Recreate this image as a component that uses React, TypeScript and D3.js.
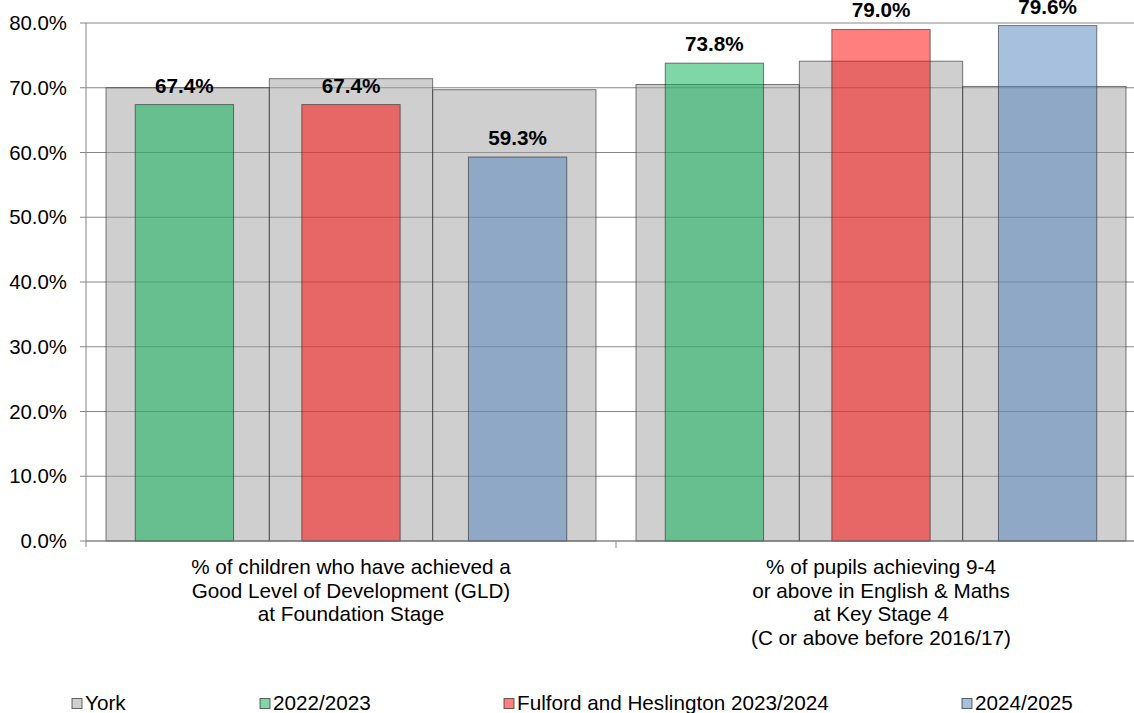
import React from "react";
import * as d3 from "d3";

const categories = ["gld", "ks4"];
const categoryLabels: string[][] = [
  ["% of children who have achieved a", "Good Level of Development (GLD)", "at Foundation Stage"],
  ["% of pupils achieving 9-4", "or above in English & Maths", "at Key Stage 4", "(C or above before 2016/17)"],
];
const periods = ["2022/2023", "2023/2024", "2024/2025"];
const yorkValues = [
  [70.0, 71.4, 69.7],
  [70.5, 74.1, 70.2],
];
const wardValues = [
  [67.4, 67.4, 59.3],
  [73.8, 79.0, 79.6],
];
const yTicks = [0, 10, 20, 30, 40, 50, 60, 70, 80];
const legendItems = ["York", "2022/2023", "Fulford and Heslington 2023/2024", "2024/2025"];
const wardColors = ["rgba(0,176,80,0.5)", "rgba(255,0,0,0.5)", "rgba(79,129,189,0.5)"];
const yorkColor = "rgba(160,160,160,0.5)";

const W = 1134;
const H = 713;
const FONT = "'Liberation Sans', Arial, sans-serif";

export default function App() {
  const x0 = d3.scaleBand<string>().domain(categories).range([86, 1146]).padding(0);
  const bw = x0.bandwidth();
  const xYork = d3.scaleBand<string>().domain(periods).range([20, bw - 20]).padding(0);
  const xWard = d3.scalePoint<string>().domain(periods).range([bw / 2 - 166.6, bw / 2 + 166.6]);
  const wardW = 98.3;
  const y = d3.scaleLinear().domain([0, 80]).range([541, 23]);

  const legendX = [72, 260, 504, 962];

  return (
    <svg
      width={W}
      height={H}
      style={{ position: "absolute", left: 0, top: 0, background: "#fff" }}
      fontFamily={FONT}
    >
      {/* gridlines */}
      {yTicks.map((t) => (
        <line key={"g" + t} x1={86} x2={1146} y1={y(t)} y2={y(t)} stroke="#868686" strokeWidth={1} />
      ))}
      {/* y axis ticks and labels */}
      {yTicks.map((t) => (
        <g key={"t" + t}>
          <line x1={80} x2={86} y1={y(t)} y2={y(t)} stroke="#868686" />
          <text x={67} y={y(t) + 7} textAnchor="end" fontSize={20.4} fill="#000">
            {t.toFixed(1) + "%"}
          </text>
        </g>
      ))}
      {/* York bars */}
      {categories.map((c, ci) =>
        periods.map((p, pi) => (
          <rect
            key={"y" + ci + pi}
            x={(x0(c) as number) + (xYork(p) as number)}
            y={y(yorkValues[ci][pi])}
            width={xYork.bandwidth()}
            height={y(0) - y(yorkValues[ci][pi])}
            fill={yorkColor}
            stroke="rgba(40,40,40,0.6)"
            strokeWidth={1}
          />
        ))
      )}
      {/* ward bars */}
      {categories.map((c, ci) =>
        periods.map((p, pi) => {
          const cx = (x0(c) as number) + (xWard(p) as number);
          const v = wardValues[ci][pi];
          return (
            <g key={"w" + ci + pi}>
              <rect
                x={cx - wardW / 2}
                y={y(v)}
                width={wardW}
                height={y(0) - y(v)}
                fill={wardColors[pi]}
                stroke="rgba(40,40,40,0.6)"
                strokeWidth={1}
              />
              <text x={cx} y={y(v) - 12} textAnchor="middle" fontSize={20.7} fontWeight="bold" fill="#000">
                {v.toFixed(1) + "%"}
              </text>
            </g>
          );
        })
      )}
      {/* axes */}
      <line x1={86} x2={86} y1={23} y2={547} stroke="#868686" />
      <line x1={86} x2={1146} y1={541} y2={541} stroke="#868686" />
      {categories.map((c, ci) => (
        <line
          key={"xt" + ci}
          x1={(x0(c) as number) + bw}
          x2={(x0(c) as number) + bw}
          y1={541}
          y2={548}
          stroke="#868686"
        />
      ))}
      {/* category labels */}
      {categories.map((c, ci) => (
        <text key={"cl" + ci} textAnchor="middle" fontSize={20.7} fill="#000">
          {categoryLabels[ci].map((line, li) => (
            <tspan key={li} x={(x0(c) as number) + bw / 2} y={574 + li * 23.5}>
              {line}
            </tspan>
          ))}
        </text>
      ))}
      {/* legend */}
      {legendItems.map((item, i) => (
        <g key={"l" + i}>
          <rect
            x={legendX[i]}
            y={698.5}
            width={10}
            height={10}
            fill={i === 0 ? yorkColor : wardColors[i - 1]}
            stroke="rgba(40,40,40,0.7)"
            strokeWidth={1}
          />
          <text x={legendX[i] + 13} y={710} fontSize={20.7} fill="#000">
            {item}
          </text>
        </g>
      ))}
    </svg>
  );
}
